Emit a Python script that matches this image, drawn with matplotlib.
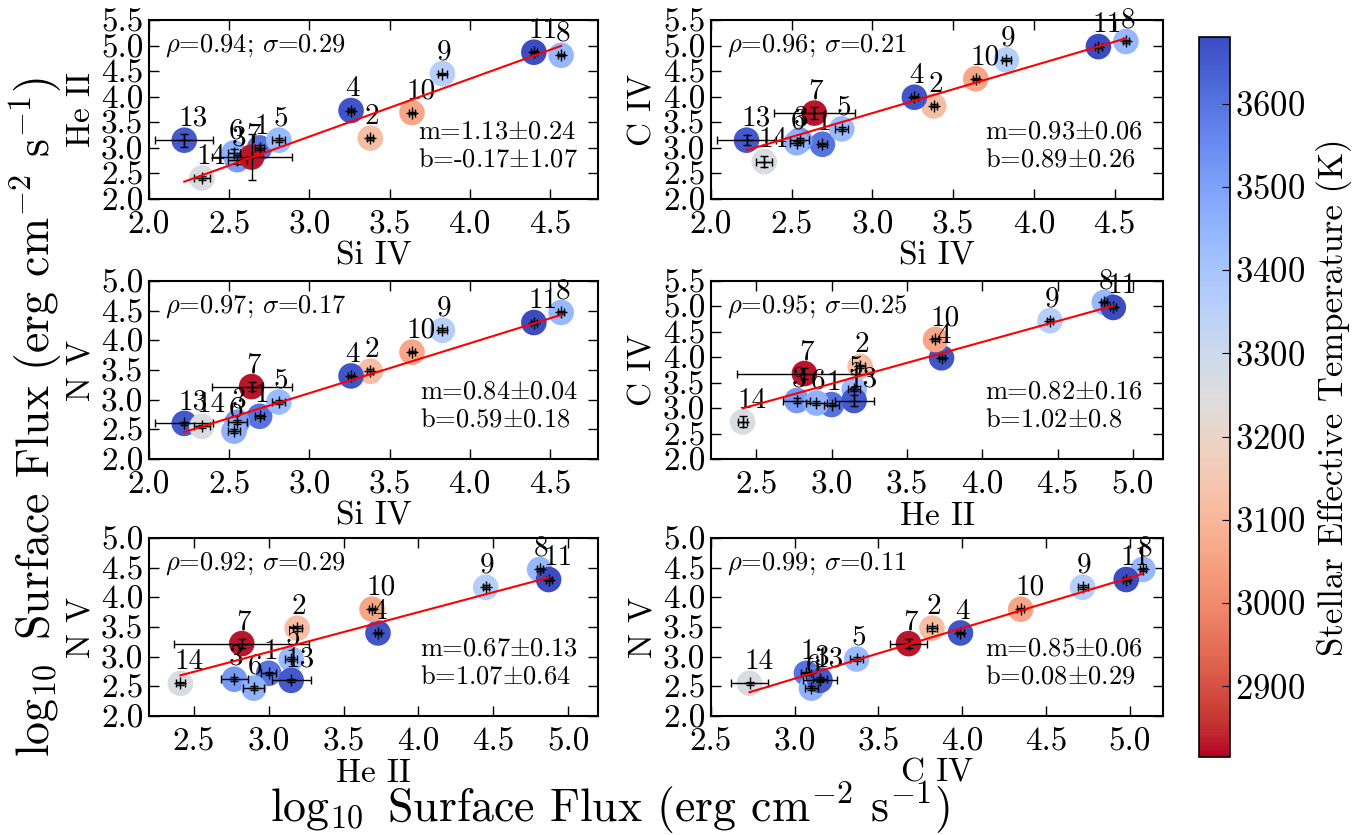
import numpy as np
import matplotlib
matplotlib.use("Agg")
import matplotlib.pyplot as plt
from matplotlib.colors import Normalize
from matplotlib.ticker import FormatStrFormatter

plt.rcParams['font.family'] = 'serif'
plt.rcParams['font.serif'] = ['cmr10']
plt.rcParams['mathtext.fontset'] = 'cm'
plt.rcParams['axes.unicode_minus'] = False
plt.rcParams['axes.formatter.use_mathtext'] = True

# ---- data ----
star_ids = [1, 2, 3, 4, 5, 6, 7, 8, 9, 10, 11, 13, 14]
teff = [3600, 3120, 3520, 3660, 3430, 3460, 2830, 3440, 3360, 3060, 3680, 3650, 3260]

si4 = [2.69, 3.38, 2.55, 3.26, 2.81, 2.53, 2.64, 4.57, 3.83, 3.64, 4.40, 2.22, 2.33]
he2 = [3.00, 3.19, 2.77, 3.73, 3.15, 2.90, 2.82, 4.81, 4.45, 3.69, 4.87, 3.15, 2.41]
c4 = [3.07, 3.82, 3.15, 3.99, 3.37, 3.10, 3.68, 5.08, 4.72, 4.35, 4.98, 3.15, 2.73]
n5 = [2.72, 3.48, 2.62, 3.40, 2.96, 2.47, 3.22, 4.47, 4.17, 3.80, 4.30, 2.60, 2.55]

si4_err = [0.03, 0.02, 0.06, 0.02, 0.04, 0.04, 0.25, 0.02, 0.03, 0.02, 0.02, 0.18, 0.05]
he2_err = [0.05, 0.03, 0.09, 0.02, 0.04, 0.07, 0.45, 0.02, 0.02, 0.02, 0.02, 0.13, 0.03]
c4_err = [0.03, 0.03, 0.04, 0.02, 0.04, 0.04, 0.11, 0.02, 0.03, 0.02, 0.02, 0.10, 0.11]
n5_err = [0.03, 0.04, 0.03, 0.02, 0.04, 0.04, 0.08, 0.03, 0.03, 0.02, 0.02, 0.03, 0.03]

x_names = ['Si IV', 'Si IV', 'Si IV', 'He II', 'He II', 'C IV']
y_names = ['He II', 'C IV', 'N V', 'C IV', 'N V', 'N V']
rho_txt = ['0.94', '0.96', '0.97', '0.95', '0.92', '0.99']
sig_txt = ['0.29', '0.21', '0.17', '0.25', '0.29', '0.11']
m_val = [1.13, 0.93, 0.84, 0.82, 0.67, 0.85]
m_txt = ['1.13', '0.93', '0.84', '0.82', '0.67', '0.85']
m_err_txt = ['0.24', '0.06', '0.04', '0.16', '0.13', '0.06']
b_val = [-0.17, 0.89, 0.59, 1.02, 1.07, 0.08]
b_txt = ['-0.17', '0.89', '0.59', '1.02', '1.07', '0.08']
b_err_txt = ['1.07', '0.26', '0.18', '0.8', '0.64', '0.29']

xlims = [(2.0, 4.8), (2.0, 4.8), (2.0, 4.8), (2.2, 5.2), (2.2, 5.2), (2.5, 5.2)]
ylims = [(2.0, 5.5), (2.0, 5.5), (2.0, 5.0), (2.0, 5.5), (2.0, 5.0), (2.0, 5.0)]

series = {'Si IV': (si4, si4_err), 'He II': (he2, he2_err),
          'C IV': (c4, c4_err), 'N V': (n5, n5_err)}

# ---- layout ----
W, H = 1364, 835
fig = plt.figure(figsize=(W / 100, H / 100), dpi=100)

col_lr = [(149, 598), (711, 1163)]
row_tb = [(20, 199), (281, 459), (538, 716)]

norm = Normalize(vmin=2815, vmax=3680)
cmap = plt.get_cmap('coolwarm_r')

sc = None
for k in range(6):
    r, c = divmod(k, 2)
    l, rr = col_lr[c]
    t, b = row_tb[r]
    ax = fig.add_axes([l / W, 1 - b / H, (rr - l) / W, (b - t) / H])
    xv, xe = series[x_names[k]]
    yv, ye = series[y_names[k]]
    xv = np.array(xv); yv = np.array(yv)
    sc = ax.scatter(xv, yv, c=teff, cmap=cmap, norm=norm, s=340,
                    edgecolors='none', zorder=2)
    ax.errorbar(xv, yv, xerr=xe, yerr=ye, fmt='+', color='k', ms=8,
                mew=1.0, elinewidth=1.0, capsize=3, capthick=1.0, zorder=3)
    for i, sid in enumerate(star_ids):
        ax.annotate(str(sid), xy=(xv[i], yv[i]), xytext=(-4, 6),
                    textcoords='offset points', ha='left', va='bottom',
                    fontsize=21, zorder=4)
    xx = np.array([xv.min(), xv.max()])
    ax.plot(xx, m_val[k] * xx + b_val[k], color='red', lw=1.5, zorder=5)
    ax.set_xlim(*xlims[k])
    ax.set_ylim(*ylims[k])
    ax.set_xticks(np.arange(np.ceil(xlims[k][0] * 2) / 2, xlims[k][1] + 0.01, 0.5))
    ax.set_yticks(np.arange(ylims[k][0], ylims[k][1] + 0.01, 0.5))
    ax.xaxis.set_major_formatter(FormatStrFormatter('%.1f'))
    ax.yaxis.set_major_formatter(FormatStrFormatter('%.1f'))
    ax.tick_params(direction='in', top=True, right=True, length=7, width=1,
                   labelsize=24)
    ax.tick_params(axis='x', pad=8)
    ax.tick_params(axis='y', pad=4)
    for s in ax.spines.values():
        s.set_linewidth(1.5)
    ax.set_xlabel(x_names[k], fontsize=24, labelpad=2)
    ax.set_ylabel(y_names[k], fontsize=24, labelpad=4)
    ax.text(0.035, 0.93, r'$\rho$=%s; $\sigma$=%s' % (rho_txt[k], sig_txt[k]),
            transform=ax.transAxes, ha='left', va='top', fontsize=19)
    ax.text(0.955, 0.445, 'm=%s$\\pm$%s\nb=%s$\\pm$%s' % (m_txt[k], m_err_txt[k], b_txt[k], b_err_txt[k]),
            transform=ax.transAxes, ha='right', va='top', fontsize=19,
            multialignment='left', linespacing=1.25)

cax = fig.add_axes([1199 / W, 1 - 757 / H, 31 / W, 720 / H])
cb = fig.colorbar(sc, cax=cax)
cb.set_ticks(np.arange(2900, 3601, 100))
cb.ax.tick_params(labelsize=25, length=6, direction='in')
cb.set_label('Stellar Effective Temperature (K)', fontsize=25, labelpad=8)
cb.outline.set_linewidth(1.2)

fig.text(0.447, 0.032, r'$\log_{10}$ Surface Flux (erg cm$^{-2}$ s$^{-1}$)',
         ha='center', va='center', fontsize=33)
fig.text(0.026, 0.5, r'$\log_{10}$ Surface Flux (erg cm$^{-2}$ s$^{-1}$)',
         ha='center', va='center', rotation=90, fontsize=33)

fig.savefig('out.png', dpi=100)
